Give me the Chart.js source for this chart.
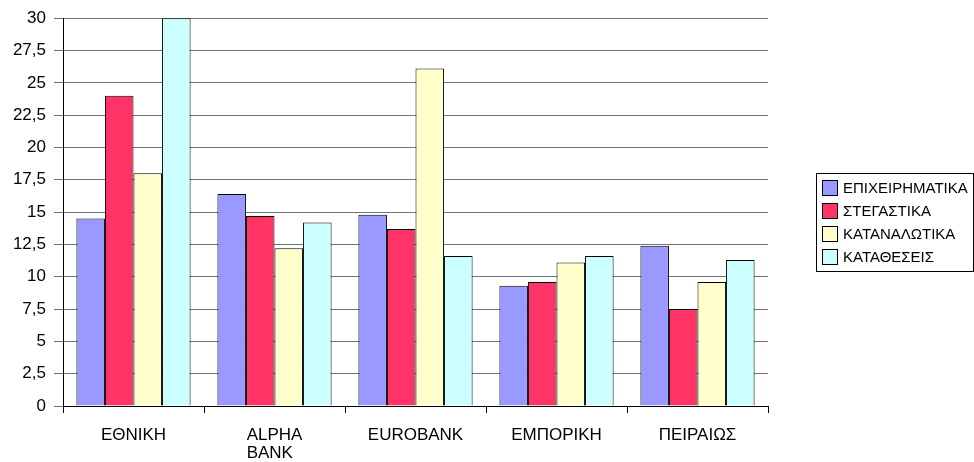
<!DOCTYPE html>
<html>
<head>
<meta charset="utf-8">
<script src="https://cdn.jsdelivr.net/npm/chart.js@4.4.1/dist/chart.umd.min.js"></script>
<style>
    html, body { margin: 0; padding: 0; background: #ffffff; }
    #wrap { width: 974px; height: 462px; }
</style>
</head>
<body>
<div id="wrap"><canvas id="bankChart"></canvas></div>
<script>
    // Data
    const banks = ["ΕΘΝΙΚΗ", ["ALPHA", "BANK  "], "EUROBANK", "ΕΜΠΟΡΙΚΗ", "ΠΕΙΡΑΙΩΣ"];
    const seriesNames = ["ΕΠΙΧΕΙΡΗΜΑΤΙΚΑ", "ΣΤΕΓΑΣΤΙΚΑ", "ΚΑΤΑΝΑΛΩΤΙΚΑ", "ΚΑΤΑΘΕΣΕΙΣ"];
    const epixeirimatika = [14.5, 16.4, 14.8, 9.3, 12.4];
    const stegastika = [24.0, 14.7, 13.7, 9.6, 7.5];
    const katanalotika = [18.0, 12.2, 26.1, 11.1, 9.6];
    const katatheseis = [30.0, 14.2, 11.6, 11.6, 11.3];
    const yTicks = [0, 2.5, 5, 7.5, 10, 12.5, 15, 17.5, 20, 22.5, 25, 27.5, 30];

    const colors = ["#9999FF", "#FF3366", "#FFFFCC", "#CCFFFF"];
    const seriesValues = [epixeirimatika, stegastika, katanalotika, katatheseis];

    const FONT = "'Liberation Sans', Arial, sans-serif";

    // Legend box on the right, drawn by hand like the original
    const boxLegend = {
        id: "boxLegend",
        afterDraw(chart) {
            const ctx = chart.ctx;
            const x0 = 816, y0 = 173, w = 157, h = 98;
            ctx.save();
            ctx.strokeStyle = "#000000";
            ctx.lineWidth = 1;
            ctx.strokeRect(x0 + 0.5, y0 + 0.5, w, h);
            ctx.font = "15px " + FONT;
            ctx.textBaseline = "middle";
            chart.data.datasets.forEach((ds, i) => {
                const cy = 188 + i * 23;
                ctx.fillStyle = ds.backgroundColor;
                ctx.fillRect(822, cy - 8, 16, 16);
                ctx.strokeRect(822.5, cy - 7.5, 15, 15);
                ctx.fillStyle = "#000000";
                ctx.fillText(ds.label, 843, cy + 1);
            });
            ctx.restore();
        },
    };

    const ctx = document.getElementById("bankChart").getContext("2d");

    new Chart(ctx, {
        type: "bar",
        data: {
            labels: banks,
            datasets: seriesNames.map((name, i) => ({
                label: name,
                data: seriesValues[i],
                backgroundColor: colors[i],
                borderColor: "#000000",
                borderWidth: 1,
                categoryPercentage: 0.81,
                barPercentage: 1.0,
            })),
        },
        options: {
            responsive: true,
            maintainAspectRatio: false,
            animation: false,
            layout: {
                padding: { left: 0, top: 18, right: 206, bottom: 0 },
            },
            plugins: {
                legend: { display: false },
                tooltip: { enabled: false },
            },
            scales: {
                x: {
                    grid: {
                        drawOnChartArea: false,
                        color: "#000000",
                        tickLength: 7,
                        offset: true,
                    },
                    border: { color: "#000000", width: 1 },
                    ticks: {
                        color: "#000000",
                        font: { family: FONT, size: 17, lineHeight: 1.06 },
                        padding: 13,
                        maxRotation: 0,
                    },
                    afterFit(scale) {
                        scale.height = 56;
                    },
                },
                y: {
                    min: 0,
                    max: 30,
                    afterBuildTicks(scale) {
                        scale.ticks = yTicks.map((v) => ({ value: v }));
                    },
                    grid: {
                        color: "#737373",
                        tickLength: 9,
                    },
                    border: { color: "#000000", width: 1 },
                    ticks: {
                        color: "#000000",
                        font: { family: FONT, size: 17 },
                        padding: 8,
                        callback: (v) => String(v).replace(".", ","),
                    },
                    afterFit(scale) {
                        scale.width = 63;
                    },
                },
            },
        },
        plugins: [boxLegend],
    });
</script>
</body>
</html>
